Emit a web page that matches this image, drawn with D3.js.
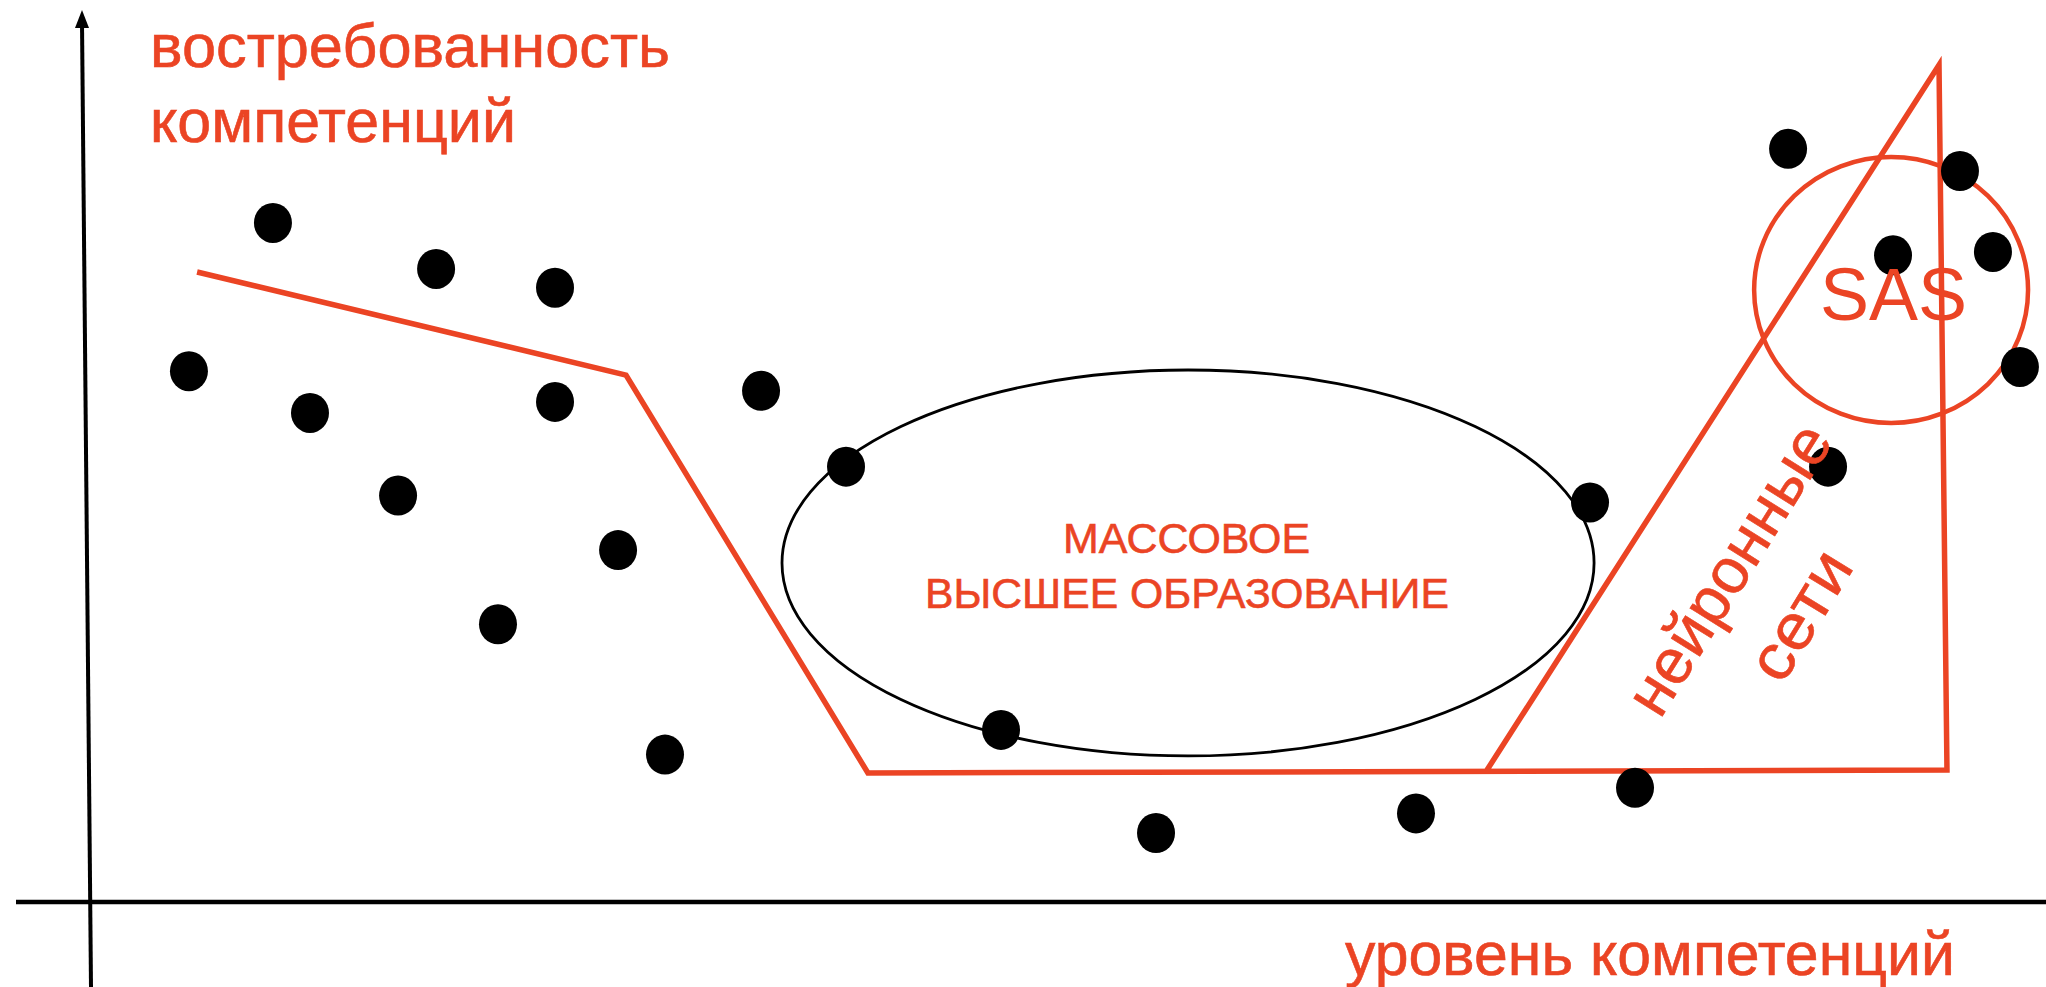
<!DOCTYPE html>
<html>
<head>
<meta charset="utf-8">
<script src="https://cdn.jsdelivr.net/npm/d3@7"></script>
<style>
html, body { margin: 0; padding: 0; background: #ffffff; overflow: hidden; }
svg { display: block; }
</style>
</head>
<body>
<svg id="chart" width="2046" height="987"></svg>
<script>
// ---- data (schematic units: x = уровень компетенций, y = востребованность) ----
const dotX = [9.43, 5.10, 11.34, 17.84, 23.97, 23.97, 15.88, 27.22, 21.03, 29.64,
              34.59, 38.97, 46.96, 54.95, 68.35, 77.32, 79.64, 89.59,
              87.53, 96.39, 92.94, 98.09, 99.48];
const dotY = [79.7, 62.3, 57.4, 74.3, 72.1, 58.7, 47.7, 41.3, 32.6, 17.3,
              60.0, 51.1, 20.2, 8.1, 10.4, 46.9, 13.4, 51.1,
              88.4, 85.8, 75.9, 76.3, 62.8];
const trendX = [5.52, 27.63, 40.10, 95.72, 95.31, 72.01];
const trendY = [73.94, 61.85, 15.14, 15.49, 98.24, 15.49];
const massEllipse = [56.60, 39.79, 20.93, 22.65];   // cx, cy, rx, ry
const sasEllipse  = [92.84, 71.83, 7.06, 15.61];    // cx, cy, rx, ry
const yTitle = ["востребованность", "компетенций"];
const xTitle = ["уровень компетенций"];
const massLabel = ["МАССОВОЕ", "ВЫСШЕЕ ОБРАЗОВАНИЕ"];
const sasLabel = ["SAS"];
const nnLabel = ["нейронные", "сети"];

// ---- layout ----
const W = 2046, H = 987;
const RED = "#EB4424";
const FONT = "'Liberation Sans', Arial, Helvetica, sans-serif";
const svg = d3.select("#chart");

const x = d3.scaleLinear().domain([0, 100]).range([90, 2030]);
const y = d3.scaleLinear().domain([0, 100]).range([902, 50]);

// axes (no ticks)
svg.append("line")
  .attr("x1", 16).attr("y1", y(0)).attr("x2", W).attr("y2", y(0))
  .attr("stroke", "#000").attr("stroke-width", 4.5);
svg.append("line")
  .attr("x1", 91).attr("y1", H).attr("x2", 82).attr("y2", 22)
  .attr("stroke", "#000").attr("stroke-width", 4);
svg.append("path")
  .attr("d", "M82,10 L75,28 L89,28 Z")
  .attr("fill", "#000");

// axis titles
const yT = svg.append("g").attr("fill", RED).attr("stroke", RED).attr("stroke-width", 0.6)
  .attr("font-family", FONT).attr("font-size", 62);
yT.append("text").attr("x", 150).attr("y", 67).text(yTitle[0])
  .attr("textLength", 520).attr("lengthAdjust", "spacingAndGlyphs");
yT.append("text").attr("x", 150).attr("y", 142).text(yTitle[1])
  .attr("textLength", 366).attr("lengthAdjust", "spacingAndGlyphs");
svg.append("text").attr("x", 1345).attr("y", 975).text(xTitle[0])
  .attr("fill", RED).attr("stroke", RED).attr("stroke-width", 0.6)
  .attr("font-family", FONT).attr("font-size", 62)
  .attr("textLength", 610).attr("lengthAdjust", "spacingAndGlyphs");

// mass-education ellipse
svg.append("ellipse")
  .attr("cx", x(massEllipse[0])).attr("cy", y(massEllipse[1]))
  .attr("rx", x(massEllipse[0] + massEllipse[2]) - x(massEllipse[0]))
  .attr("ry", y(massEllipse[1]) - y(massEllipse[1] + massEllipse[3]))
  .attr("fill", "none").attr("stroke", "#000").attr("stroke-width", 2.8);

// red trend polyline
const pts = trendX.map((d, i) => [x(d), y(trendY[i])]);
svg.append("path")
  .attr("d", d3.line()(pts))
  .attr("fill", "none").attr("stroke", RED).attr("stroke-width", 5.5)
  .attr("stroke-linejoin", "miter");

// SAS circle
svg.append("ellipse")
  .attr("cx", x(sasEllipse[0])).attr("cy", y(sasEllipse[1]))
  .attr("rx", x(sasEllipse[0] + sasEllipse[2]) - x(sasEllipse[0]))
  .attr("ry", y(sasEllipse[1]) - y(sasEllipse[1] + sasEllipse[3]))
  .attr("fill", "none").attr("stroke", RED).attr("stroke-width", 4.5);

// dots
svg.append("g").selectAll("ellipse")
  .data(dotX.map((d, i) => [d, dotY[i]]))
  .join("ellipse")
  .attr("cx", d => x(d[0])).attr("cy", d => y(d[1]))
  .attr("rx", 19).attr("ry", 20).attr("fill", "#000");

// labels
const mG = svg.append("g").attr("fill", RED).attr("stroke", RED).attr("stroke-width", 0.6)
  .attr("font-family", FONT).attr("font-size", 43);
mG.append("text").attr("x", 1063).attr("y", 553).text(massLabel[0])
  .attr("textLength", 247).attr("lengthAdjust", "spacingAndGlyphs");
mG.append("text").attr("x", 925).attr("y", 608).text(massLabel[1])
  .attr("textLength", 524).attr("lengthAdjust", "spacingAndGlyphs");

svg.append("text").attr("x", 1820).attr("y", 320).text(sasLabel[0])
  .attr("fill", RED).attr("font-family", FONT).attr("font-size", 74)
  .attr("textLength", 147).attr("lengthAdjust", "spacingAndGlyphs");

const nG = svg.append("g").attr("fill", RED).attr("stroke", RED).attr("stroke-width", 0.6)
  .attr("font-family", FONT).attr("font-size", 64);
nG.append("text").attr("transform", "translate(1660,720) rotate(-58)").text(nnLabel[0])
  .attr("textLength", 329).attr("lengthAdjust", "spacingAndGlyphs");
nG.append("text").attr("transform", "translate(1782,686) rotate(-58.5)").text(nnLabel[1])
  .attr("textLength", 140).attr("lengthAdjust", "spacingAndGlyphs");
</script>
</body>
</html>
